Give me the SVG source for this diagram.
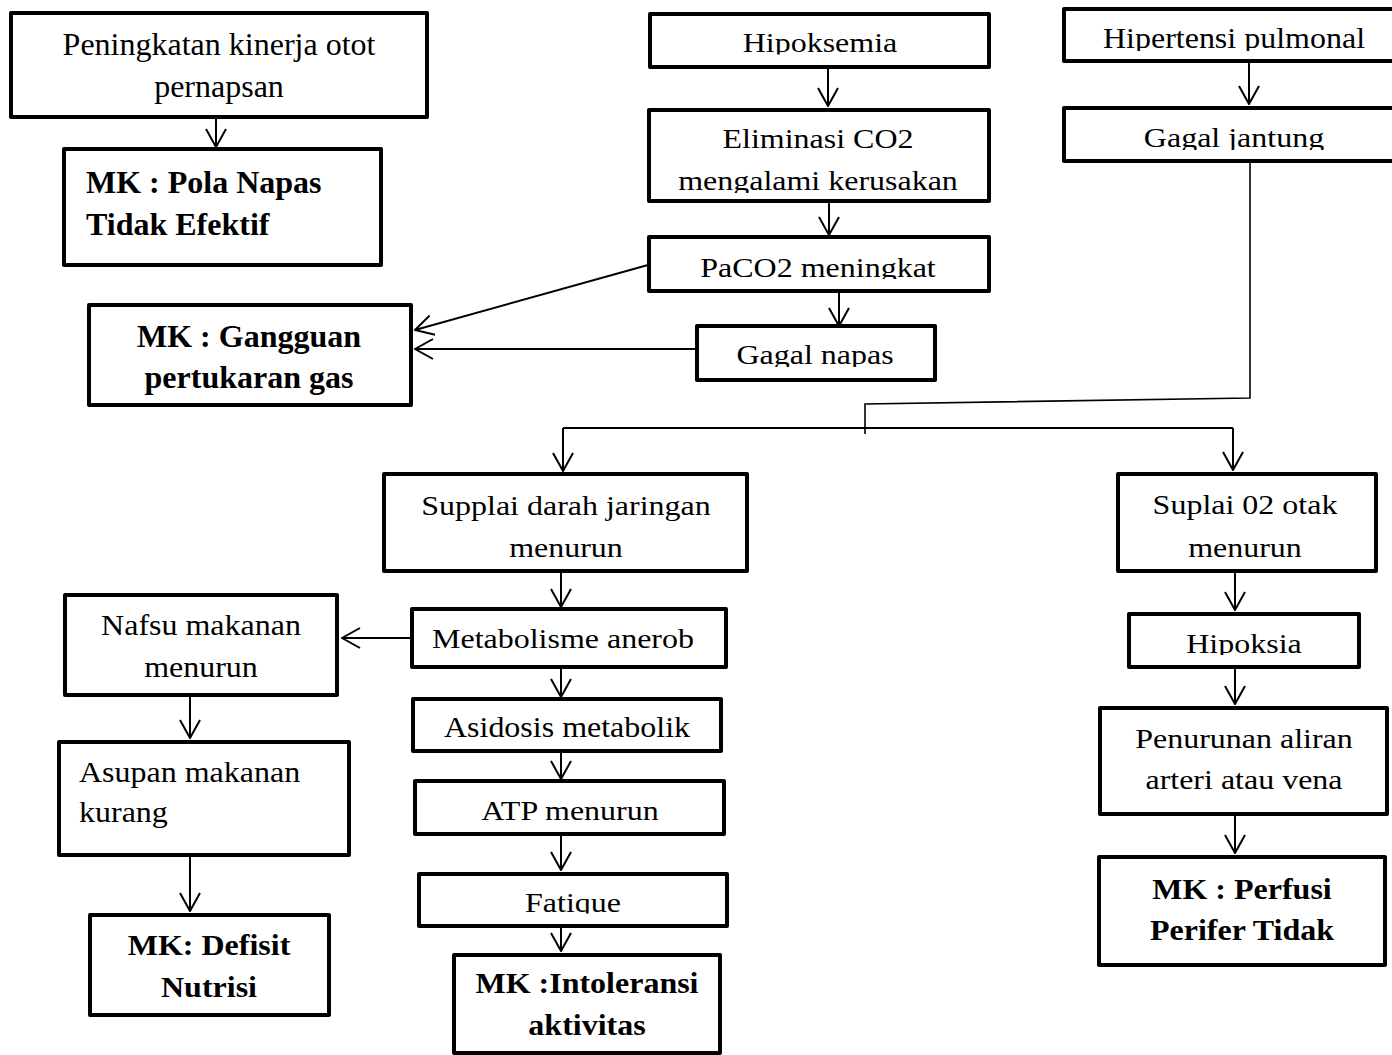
<svg xmlns="http://www.w3.org/2000/svg" width="1392" height="1055" viewBox="0 0 1392 1055">
<style>
.box{fill:#fff;stroke:#000;stroke-width:4;stroke-linejoin:round}
.t{font-family:"Liberation Serif","Times New Roman",serif;font-size:32px;fill:#000;text-anchor:middle}
.s{text-anchor:start}
.b{font-weight:bold}
.c{fill:none;stroke:#000;stroke-width:2}
.a{marker-end:url(#arr)}
</style>
<defs>
<marker id="arr" markerUnits="userSpaceOnUse" viewBox="0 0 20 22" refX="19" refY="11" markerWidth="20" markerHeight="22" orient="auto">
<path d="M1,1 L19,11 L1,21" fill="none" stroke="#000" stroke-width="2"/>
</marker>
<clipPath id="k1"><rect x="600" y="0" width="420" height="54.5"/></clipPath>
<clipPath id="k2"><rect x="600" y="160" width="420" height="33"/></clipPath>
<clipPath id="k3"><rect x="600" y="240" width="420" height="39"/></clipPath>
<clipPath id="k4"><rect x="690" y="330" width="260" height="37"/></clipPath>
<clipPath id="k5"><rect x="1060" y="0" width="340" height="51"/></clipPath>
<clipPath id="k6"><rect x="1060" y="110" width="340" height="40"/></clipPath>
<clipPath id="k7"><rect x="1120" y="615" width="250" height="40"/></clipPath>
<clipPath id="k8"><rect x="410" y="875" width="330" height="38.5"/></clipPath>
</defs>

<g id="connectors">
<path class="c a" d="M216,119 V147"/>
<path class="c a" d="M828,69 V106"/>
<path class="c a" d="M829,203 V235"/>
<path class="c a" d="M839,293 V326"/>
<path class="c a" d="M648,265 L415,330"/>
<path class="c a" d="M695,349 H415"/>
<path class="c a" d="M1249,63 V104"/>
<path class="c" style="stroke-width:1.6" d="M1250,163 V398 L865,404 V434"/>
<path class="c" d="M563,428 H1233"/>
<path class="c a" d="M563,428 V471"/>
<path class="c a" d="M1233,428 V470"/>
<path class="c a" d="M561,573 V607"/>
<path class="c a" d="M410,638 H342"/>
<path class="c a" d="M561,669 V697"/>
<path class="c a" d="M561,753 V779"/>
<path class="c a" d="M561,836 V870"/>
<path class="c a" d="M561,928 V951"/>
<path class="c a" d="M190,697 V738"/>
<path class="c a" d="M190,857 V911"/>
<path class="c a" d="M1235,573 V610"/>
<path class="c a" d="M1235,669 V704"/>
<path class="c a" d="M1235,816 V853"/>
</g>

<g id="n-peningkatan">
<rect class="box" x="11" y="13" width="416" height="104"/>
<text class="t" x="219" y="55">Peningkatan kinerja otot</text>
<text class="t" x="219" y="97">pernapsan</text>
</g>
<g id="n-mk-pola">
<rect class="box" x="64" y="149" width="317" height="116"/>
<text class="t s b" x="86" y="193">MK : Pola Napas</text>
<text class="t s b" x="86" y="235">Tidak Efektif</text>
</g>
<g id="n-hipoksemia">
<rect class="box" x="650" y="14" width="339" height="53"/>
<g clip-path="url(#k1)"><text class="t" transform="translate(820 52) scale(1 .88)">Hipoksemia</text></g>
</g>
<g id="n-eliminasi">
<rect class="box" x="649" y="110" width="340" height="91"/>
<text class="t" transform="translate(818 148) scale(1 .88)">Eliminasi CO2</text>
<g clip-path="url(#k2)"><text class="t" transform="translate(818 190) scale(1 .88)">mengalami kerusakan</text></g>
</g>
<g id="n-paco2">
<rect class="box" x="649" y="237" width="340" height="54"/>
<g clip-path="url(#k3)"><text class="t" transform="translate(818 277) scale(1 .88)">PaCO2 meningkat</text></g>
</g>
<g id="n-gagal-napas">
<rect class="box" x="697" y="326" width="238" height="54"/>
<g clip-path="url(#k4)"><text class="t" transform="translate(815 364) scale(1 .88)">Gagal napas</text></g>
</g>
<g id="n-mk-gangguan">
<rect class="box" x="89" y="305" width="322" height="100"/>
<text class="t b" x="249" y="347">MK : Gangguan</text>
<text class="t b" x="249" y="388">pertukaran gas</text>
</g>
<g id="n-hipertensi">
<rect class="box" x="1064" y="9" width="340" height="52"/>
<g clip-path="url(#k5)"><text class="t" transform="translate(1234 48) scale(1 .92)">Hipertensi pulmonal</text></g>
</g>
<g id="n-gagal-jantung">
<rect class="box" x="1064" y="108" width="340" height="53"/>
<g clip-path="url(#k6)"><text class="t" transform="translate(1234 147) scale(1 .88)">Gagal jantung</text></g>
</g>
<g id="n-supplai">
<rect class="box" x="384" y="474" width="363" height="97"/>
<text class="t" transform="translate(566 515) scale(1 .88)">Supplai darah jaringan</text>
<text class="t" transform="translate(566 557) scale(1 .88)">menurun</text>
</g>
<g id="n-suplai-otak">
<rect class="box" x="1118" y="474" width="258" height="97"/>
<text class="t" transform="translate(1245 514) scale(1 .88)">Suplai 02 otak</text>
<text class="t" transform="translate(1245 557) scale(1 .88)">menurun</text>
</g>
<g id="n-metabolisme">
<rect class="box" x="412" y="609" width="314" height="58"/>
<text class="t" transform="translate(563 648) scale(1 .88)">Metabolisme anerob</text>
</g>
<g id="n-nafsu">
<rect class="box" x="65" y="595" width="272" height="100"/>
<text class="t" transform="translate(201 635) scale(1 .92)">Nafsu makanan</text>
<text class="t" transform="translate(201 677) scale(1 .92)">menurun</text>
</g>
<g id="n-asidosis">
<rect class="box" x="413" y="699" width="308" height="52"/>
<text class="t" transform="translate(567 737) scale(1 .92)">Asidosis metabolik</text>
</g>
<g id="n-atp">
<rect class="box" x="415" y="781" width="309" height="53"/>
<text class="t" transform="translate(570 820) scale(1 .88)">ATP menurun</text>
</g>
<g id="n-fatique">
<rect class="box" x="419" y="874" width="308" height="52"/>
<g clip-path="url(#k8)"><text class="t" transform="translate(573 912) scale(1 .88)">Fatique</text></g>
</g>
<g id="n-mk-intoleransi">
<rect class="box" x="454" y="955" width="266" height="98"/>
<text class="t b" transform="translate(587 993) scale(1 .93)">MK :Intoleransi</text>
<text class="t b" transform="translate(587 1035) scale(1 .93)">aktivitas</text>
</g>
<g id="n-asupan">
<rect class="box" x="59" y="742" width="290" height="113"/>
<text class="t s" transform="translate(79 782) scale(1 .92)">Asupan makanan</text>
<text class="t s" transform="translate(79 822) scale(1 .92)">kurang</text>
</g>
<g id="n-mk-defisit">
<rect class="box" x="90" y="915" width="239" height="100"/>
<text class="t b" transform="translate(209 955) scale(1 .93)">MK: Defisit</text>
<text class="t b" transform="translate(209 997) scale(1 .93)">Nutrisi</text>
</g>
<g id="n-hipoksia">
<rect class="box" x="1129" y="614" width="230" height="53"/>
<g clip-path="url(#k7)"><text class="t" transform="translate(1244 653) scale(1 .88)">Hipoksia</text></g>
</g>
<g id="n-penurunan">
<rect class="box" x="1100" y="708" width="287" height="106"/>
<text class="t" transform="translate(1244 748) scale(1 .88)">Penurunan aliran</text>
<text class="t" transform="translate(1244 789) scale(1 .88)">arteri atau vena</text>
</g>
<g id="n-mk-perfusi">
<rect class="box" x="1099" y="857" width="286" height="108"/>
<text class="t b" transform="translate(1242 899) scale(1 .95)">MK : Perfusi</text>
<text class="t b" transform="translate(1242 940) scale(1 .95)">Perifer Tidak</text>
</g>
</svg>
